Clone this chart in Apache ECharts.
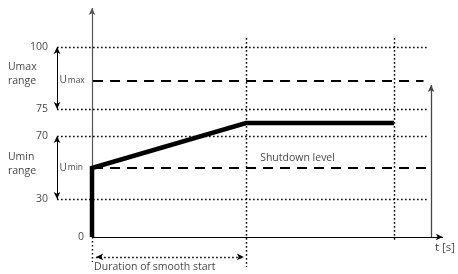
<html>
<head>
<meta charset="utf-8">
<title>Smooth start</title>
<script src="https://cdn.jsdelivr.net/npm/echarts@6/dist/echarts.min.js"></script>
<style>
  html, body { margin: 0; padding: 0; background: #fff; }
  #main { width: 458px; height: 274px; }
</style>
</head>
<body>
<div id="main"></div>
<script>
// schematic levels (not to scale), positions on a 0..100 display scale
var levelLabels = ['0', '30', '70', '75', '100'];
var levelPos = [0, 20, 53.2, 67.4, 100];
var uMin = 36.3, uMax = 82.4;
var tSmooth = 44.5, tEnd = 87.3;
var uFinal = 60;
// the smooth start curve
var curveT = [0, 0, tSmooth, tEnd];
var curveU = [0, uMin, uFinal, uFinal];

var lineEnd = 96.8;      // end of guide lines
var leftX = -10.1;       // range arrows on the left
var rightArrowX = 98;
var axisEndT = 101.4, axisEndU = 120.5;

var dotted = { type: [1.6, 2.4], color: '#000', width: 1.4 };
var dashed = { type: [10, 7], color: '#000', width: 2 };

function seg(x1, y1, x2, y2, style, sym) {
  return [
    { coord: [x1, y1], symbol: sym ? sym[0] : 'none', lineStyle: style },
    { coord: [x2, y2], symbol: sym ? sym[1] : 'none' }
  ];
}

var marks = [];
// axes
marks.push(seg(0, 0, 0, axisEndU, { type: 'solid', color: '#555', width: 1.2 }, ['none', 'arrow']));
marks.push(seg(0, 0, axisEndT, 0, { type: 'solid', color: '#000', width: 1.2 }, ['none', 'arrow']));
// horizontal dotted levels 30, 70, 75, 100
levelPos.forEach(function (p, i) {
  if (i > 0) marks.push(seg(leftX, p, lineEnd, p, dotted));
});
// dashed Umax / Umin
marks.push(seg(0.3, uMax, lineEnd - 1, uMax, dashed));
marks.push(seg(0.3, uMin, lineEnd, uMin, dashed));
// vertical dotted lines
marks.push(seg(tSmooth, 104.7, tSmooth, -15.8, dotted));
marks.push(seg(tEnd, 104.7, tEnd, -1.6, dotted));
marks.push(seg(0, 0, 0, -13.2, dotted));
// range double arrows
var arrowStyle = { type: 'solid', color: '#000', width: 1 };
marks.push(seg(leftX, levelPos[4], leftX, levelPos[3], arrowStyle, ['arrow', 'arrow']));
marks.push(seg(leftX, levelPos[2], leftX, levelPos[1], arrowStyle, ['arrow', 'arrow']));
// duration arrow
marks.push(seg(1.2, -10.5, tSmooth - 0.6, -10.5, dotted, ['arrow', 'arrow']));
// right arrow
marks.push(seg(rightArrowX, 0, rightArrowX, 80, { type: 'solid', color: '#444', width: 1.3 }, ['none', 'arrow']));

var texts = [];
levelLabels.forEach(function (l, i) {
  if (i === 0) texts.push({ value: [-2.3, levelPos[i]], name: l, label: { align: 'right' } });
  else texts.push({ value: [-12.7, levelPos[i]], name: l, label: { align: 'right' } });
});
texts.push({ value: [-24.3, 85.8], name: 'Umax\nrange', label: { align: 'left' } });
texts.push({ value: [-24.3, 38.4], name: 'Umin\nrange', label: { align: 'left' } });
texts.push({ value: [-9.4, uMax], name: '{u|U}{s|max}', label: { align: 'left' } });
texts.push({ value: [-9.4, uMin], name: '{u|U}{s|min}', label: { align: 'left' } });
texts.push({ value: [48.6, 41.6], name: 'Shutdown level', label: { align: 'left' } });
texts.push({ value: [0.6, -15.8], name: 'Duration of smooth start', label: { align: 'left' } });
texts.push({ value: [99.1, -5.8], name: 't [s]', label: { align: 'left', fontSize: 11.5 } });

var chart = echarts.init(document.getElementById('main'));
chart.setOption({
  animation: false,
  grid: { left: 0, right: 0, top: 0, bottom: 0 },
  xAxis: { type: 'value', min: -26.59, max: 105.78, show: false },
  yAxis: { type: 'value', min: -19.47, max: 124.74, show: false },
  series: [
    {
      type: 'line', silent: true,
      data: [],
      markLine: { silent: true, symbolSize: [5, 7], label: { show: false }, data: marks, animation: false }
    },
    {
      type: 'line', symbol: 'none',
      lineStyle: { color: '#000', width: 4.5, join: 'miter' },
      data: curveT.map(function (t, i) { return [t, curveU[i]]; }),
      z: 5
    },
    {
      type: 'scatter', symbolSize: 0, silent: true,
      label: {
        show: true, position: 'inside', formatter: '{b}',
        color: '#111', fontFamily: 'Open Sans', fontSize: 10.5, lineHeight: 14,
        rich: {
          u: { fontFamily: 'Open Sans', fontSize: 10, color: '#111' },
          s: { fontFamily: 'Open Sans', fontSize: 8.5, color: '#111', padding: [0, 0, 0, 1] }
        }
      },
      data: texts
    }
  ]
});
</script>
</body>
</html>
